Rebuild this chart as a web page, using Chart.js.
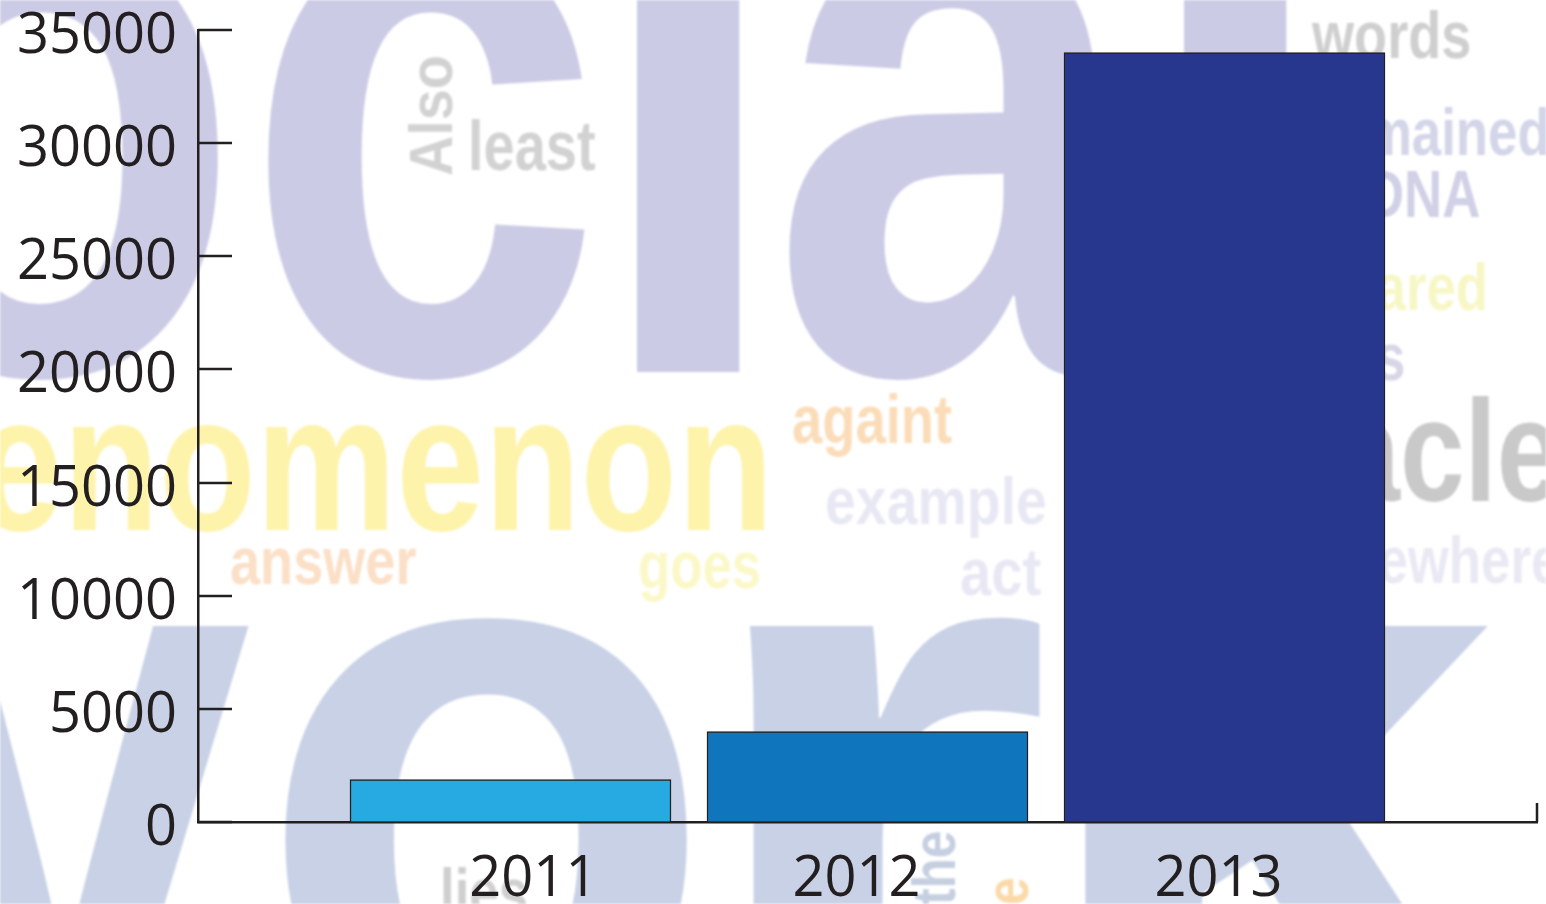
<!DOCTYPE html>
<html>
<head>
<meta charset="utf-8">
<title>Chart</title>
<script src="https://cdn.jsdelivr.net/npm/chart.js@4"></script>
<style>
  html, body { margin: 0; padding: 0; background: #fff; overflow: hidden; }
  #wrap { position: relative; width: 1546px; height: 904px; overflow: hidden; }
  #bg { position: absolute; left: 0; top: 0; filter: blur(0.8px); }
  #bg text { font-family: "Liberation Sans", Arial, sans-serif; font-weight: 700; }
  #myChart { position: absolute; left: 0; top: 0; }
</style>
</head>
<body>
<div id="wrap">
  <svg id="bg" width="1546" height="904"></svg>
  <canvas id="myChart" width="1546" height="904"></canvas>
</div>
<script>
"use strict";

const years = [2011, 2012, 2013];
const values = [1870, 4000, 34000];
const barColors = ['#26aae1', '#0f75bc', '#27378e'];
const yTicks = [0, 5000, 10000, 15000, 20000, 25000, 30000, 35000];
// year labels do not sit under the middle of the bars in the original
const labelSpots = [2011.064, 2011.969, 2012.983];

// word cloud behind the chart: text, x, baseline, size, x scale, colour, rotation
const purple = '#cbcbe6';
const slate = '#c8d1e6';
const words = [
  ['o', -162, 372, 810, 0.82, purple],
  ['c', 243, 372, 810, 0.8, purple],
  ['i', 585, 372, 810, 0.92, purple],
  ['a', 770, 372, 810, 0.82, purple],
  ['l', 1132, 372, 810, 0.92, purple],
  ['v', -118, 1054, 810, 0.82, slate],
  ['o', 256, 1054, 810, 0.93, slate],
  ['r', 688, 1054, 810, 1.16, slate],
  ['k', 1026, 1054, 810, 1.05, slate],
  ['enomenon', -25, 530, 195, 0.81, '#fdf3ab'],
  ['least', 468, 170, 70, 0.8, '#d2d2d2'],
  ['Also', 452, 176, 62, 0.9, '#d2d2d2', -90],
  ['words', 1312, 58, 66, 0.82, '#cfcfcf'],
  ['remained', 1315, 155, 66, 0.8, '#d3d5e8'],
  ['DNA', 1366, 217, 66, 0.8, '#d0d0e6'],
  ['shared', 1315, 310, 66, 0.8, '#f7f7c6'],
  ['s', 1376, 380, 66, 0.8, '#d6d6e6'],
  ['miracle', 1155, 501, 145, 0.8, '#c9c9c9'],
  ['elsewhere', 1305, 583, 66, 0.8, '#e9e9f4'],
  ['againt', 792, 443, 68, 0.8, '#fbdcb8'],
  ['example', 825, 524, 66, 0.84, '#e8e8f4'],
  ['act', 960, 595, 66, 0.85, '#e8e8f4'],
  ['answer', 230, 584, 66, 0.82, '#fbdfc6'],
  ['goes', 638, 588, 66, 0.8, '#fbf8c8'],
  ['lies', 440, 915, 66, 0.8, '#cfcfcf'],
  ['the', 955, 905, 62, 0.8, '#c5cfe0', -90],
  ['e', 1028, 905, 62, 0.8, '#fbd9a8', -90]
];

function drawWords() {
  const svg = document.getElementById('bg');
  words.forEach(w => {
    const t = document.createElementNS('http://www.w3.org/2000/svg', 'text');
    const rot = w[6] ? ` rotate(${w[6]})` : '';
    t.setAttribute('transform', `translate(${w[1]},${w[2]})${rot} scale(${w[4]},1)`);
    t.setAttribute('font-size', w[3]);
    t.setAttribute('fill', w[5]);
    t.textContent = w[0];
    svg.appendChild(t);
  });
}

// ticks point into the plot and the x axis has a small stop at its right end
const axisMarks = {
  id: 'axisMarks',
  afterDraw(chart) {
    const ctx = chart.ctx;
    const y = chart.scales.y;
    const area = chart.chartArea;
    ctx.save();
    ctx.strokeStyle = '#231f20';
    ctx.lineWidth = 2.5;
    ctx.beginPath();
    y.ticks.forEach((tick, i) => {
      const py = Math.round(y.getPixelForTick(i));
      ctx.moveTo(area.left, py);
      ctx.lineTo(area.left + 34, py);
    });
    ctx.moveTo(area.right, area.bottom);
    ctx.lineTo(area.right, area.bottom - 19);
    ctx.stroke();
    ctx.restore();
  }
};

drawWords();

const ctx = document.getElementById('myChart').getContext('2d');
new Chart(ctx, {
  type: 'bar',
  data: {
    datasets: [{
      data: years.map((year, i) => ({ x: year, y: values[i] })),
      backgroundColor: barColors,
      borderColor: '#231f20',
      borderWidth: 1.5,
      barThickness: 321
    }]
  },
  plugins: [axisMarks],
  options: {
    responsive: false,
    animation: false,
    layout: { padding: { top: 30, right: 9 } },
    plugins: { legend: { display: false }, tooltip: { enabled: false } },
    scales: {
      x: {
        type: 'linear',
        offset: false,
        min: 2010.1246,
        max: 2013.8754,
        afterBuildTicks(scale) {
          scale.ticks = labelSpots.map(v => ({ value: v }));
        },
        afterFit(scale) { scale.height = 82; },
        border: { color: '#231f20', width: 2.5 },
        grid: { drawOnChartArea: false, drawTicks: false },
        ticks: {
          autoSkip: false,
          maxRotation: 0,
          padding: 24,
          color: '#231f20',
          font: { family: '"Open Sans"', size: 56 },
          callback: (v, i) => String(years[i])
        }
      },
      y: {
        min: 0,
        max: 35000,
        afterBuildTicks(scale) {
          scale.ticks = yTicks.map(v => ({ value: v }));
        },
        afterFit(scale) {
          scale.width = 198;
          // the tick padding must not push the plot down
          scale.paddingTop = 0;
          scale.paddingBottom = 0;
        },
        border: { color: '#231f20', width: 2.5 },
        grid: { drawOnChartArea: false, drawTicks: false },
        ticks: {
          autoSkip: false,
          padding: 21,
          labelOffset: 7,
          color: '#231f20',
          font: { family: '"Open Sans"', size: 56 },
          callback: v => String(v)
        }
      }
    }
  }
});
</script>
</body>
</html>
